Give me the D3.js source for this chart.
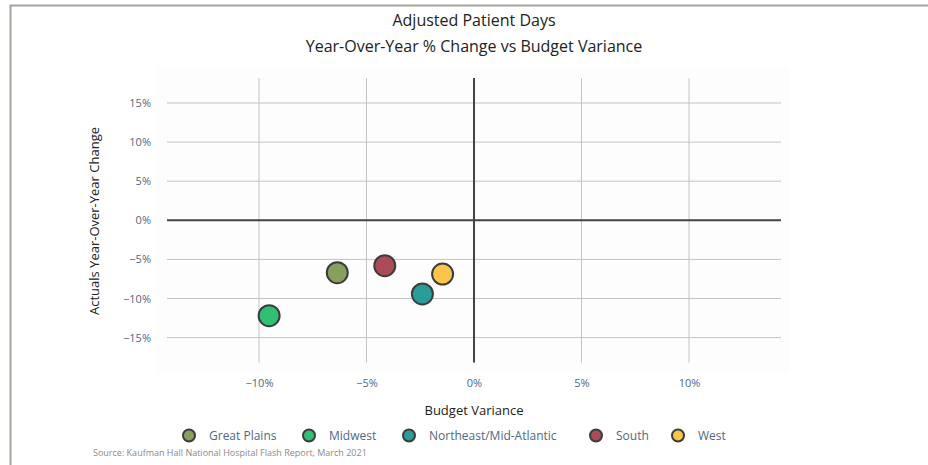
<!DOCTYPE html>
<html>
<head>
<meta charset="utf-8">
<script src="https://cdn.jsdelivr.net/npm/d3@7"></script>
<style>
  body { margin: 0; background: #fff; }
  text { font-family: "Open Sans", sans-serif; }
</style>
</head>
<body>
<svg id="chart" width="928" height="465"></svg>
<script>
// data
const regions = ["Great Plains", "Midwest", "Northeast/Mid-Atlantic", "South", "West"];
const budgetVariance = [-6.36, -9.53, -2.40, -4.15, -1.46];
const yoyChange = [-6.70, -12.2, -9.42, -5.81, -6.87];
const colors = ["#87a05e", "#31c071", "#2b9c99", "#ab4b55", "#fbc44b"];
const xTicks = [-10, -5, 0, 5, 10];
const yTicks = [-15, -10, -5, 0, 5, 10, 15];
const legendX = [189, 309, 409, 596, 678];

const svg = d3.select("#chart");
const fmt = (d) => (d < 0 ? "\u2212" + Math.abs(d) : d) + "%";

// frame
svg.append("path")
  .attr("d", "M10.5,465 V5.5 H928")
  .attr("fill", "none")
  .attr("stroke", "#a4a69c")
  .attr("stroke-width", 2);

const x = d3.scaleLinear().domain([-14.28, 14.28]).range([167, 781]);
const y = d3.scaleLinear().domain([-18.2, 18.2]).range([362.6, 78]);

svg.append("rect")
  .attr("x", 157).attr("y", 66)
  .attr("width", 633).attr("height", 307)
  .attr("fill", "#fdfdfd");

// grid
svg.append("g").selectAll("line")
  .data(xTicks.filter((d) => d !== 0))
  .join("line")
  .attr("x1", (d) => x(d)).attr("x2", (d) => x(d))
  .attr("y1", y.range()[1]).attr("y2", y.range()[0])
  .attr("stroke", "#c4c4c4").attr("stroke-width", 1);

svg.append("g").selectAll("line")
  .data(yTicks.filter((d) => d !== 0))
  .join("line")
  .attr("x1", x.range()[0]).attr("x2", x.range()[1])
  .attr("y1", (d) => y(d)).attr("y2", (d) => y(d))
  .attr("stroke", "#c4c4c4").attr("stroke-width", 1);

// zero lines
svg.append("line")
  .attr("x1", x.range()[0]).attr("x2", x.range()[1])
  .attr("y1", y(0)).attr("y2", y(0))
  .attr("stroke", "#444").attr("stroke-width", 2);
svg.append("line")
  .attr("x1", x(0)).attr("x2", x(0))
  .attr("y1", y.range()[1]).attr("y2", y.range()[0])
  .attr("stroke", "#444").attr("stroke-width", 2);

// tick labels
const xAxis = svg.append("g")
  .attr("transform", `translate(0,${y.range()[0] + 14})`)
  .call(d3.axisBottom(x).tickValues(xTicks).tickSize(0).tickFormat(fmt));
xAxis.select(".domain").remove();
xAxis.selectAll("text")
  .attr("fill", "#506784")
  .style("font-size", "11px")
  .style("font-family", "'Open Sans', sans-serif");

const yAxis = svg.append("g")
  .attr("transform", `translate(${x.range()[0] - 13},0)`)
  .call(d3.axisLeft(y).tickValues(yTicks).tickSize(0).tickFormat(fmt));
yAxis.select(".domain").remove();
yAxis.selectAll("text")
  .attr("fill", "#506784")
  .style("font-size", "11px")
  .style("font-family", "'Open Sans', sans-serif");

// points
svg.append("g").selectAll("circle")
  .data(regions)
  .join("circle")
  .attr("cx", (d, i) => x(budgetVariance[i]))
  .attr("cy", (d, i) => y(yoyChange[i]))
  .attr("r", 10.5)
  .attr("fill", (d, i) => colors[i])
  .attr("stroke", "#3c3c3c")
  .attr("stroke-width", 2);

// titles
svg.append("text")
  .attr("x", 474).attr("y", 26)
  .attr("text-anchor", "middle")
  .attr("fill", "#222")
  .style("font-size", "16px")
  .text("Adjusted Patient Days");
svg.append("text")
  .attr("x", 474).attr("y", 52)
  .attr("text-anchor", "middle")
  .attr("fill", "#222")
  .style("font-size", "16px")
  .text("Year-Over-Year % Change vs Budget Variance");

svg.append("text")
  .attr("x", 474).attr("y", 415)
  .attr("text-anchor", "middle")
  .attr("fill", "#222")
  .style("font-size", "13px")
  .text("Budget Variance");

svg.append("text")
  .attr("transform", "translate(99,221) rotate(-90)")
  .attr("text-anchor", "middle")
  .attr("fill", "#222")
  .style("font-size", "13px")
  .text("Actuals Year-Over-Year Change");

// legend
const legend = svg.append("g").selectAll("g")
  .data(regions)
  .join("g")
  .attr("transform", (d, i) => `translate(${legendX[i]},435.5)`);
legend.append("circle")
  .attr("r", 6)
  .attr("fill", (d, i) => colors[i])
  .attr("stroke", "#3c3c3c")
  .attr("stroke-width", 2);
legend.append("text")
  .attr("x", 20).attr("y", 4.5)
  .attr("fill", "#506784")
  .style("font-size", "12px")
  .text((d) => d);

svg.append("text")
  .attr("x", 93).attr("y", 456)
  .attr("fill", "#8a8a8a")
  .style("font-size", "9px")
  .text("Source: Kaufman Hall National Hospital Flash Report, March 2021");
</script>
</body>
</html>
